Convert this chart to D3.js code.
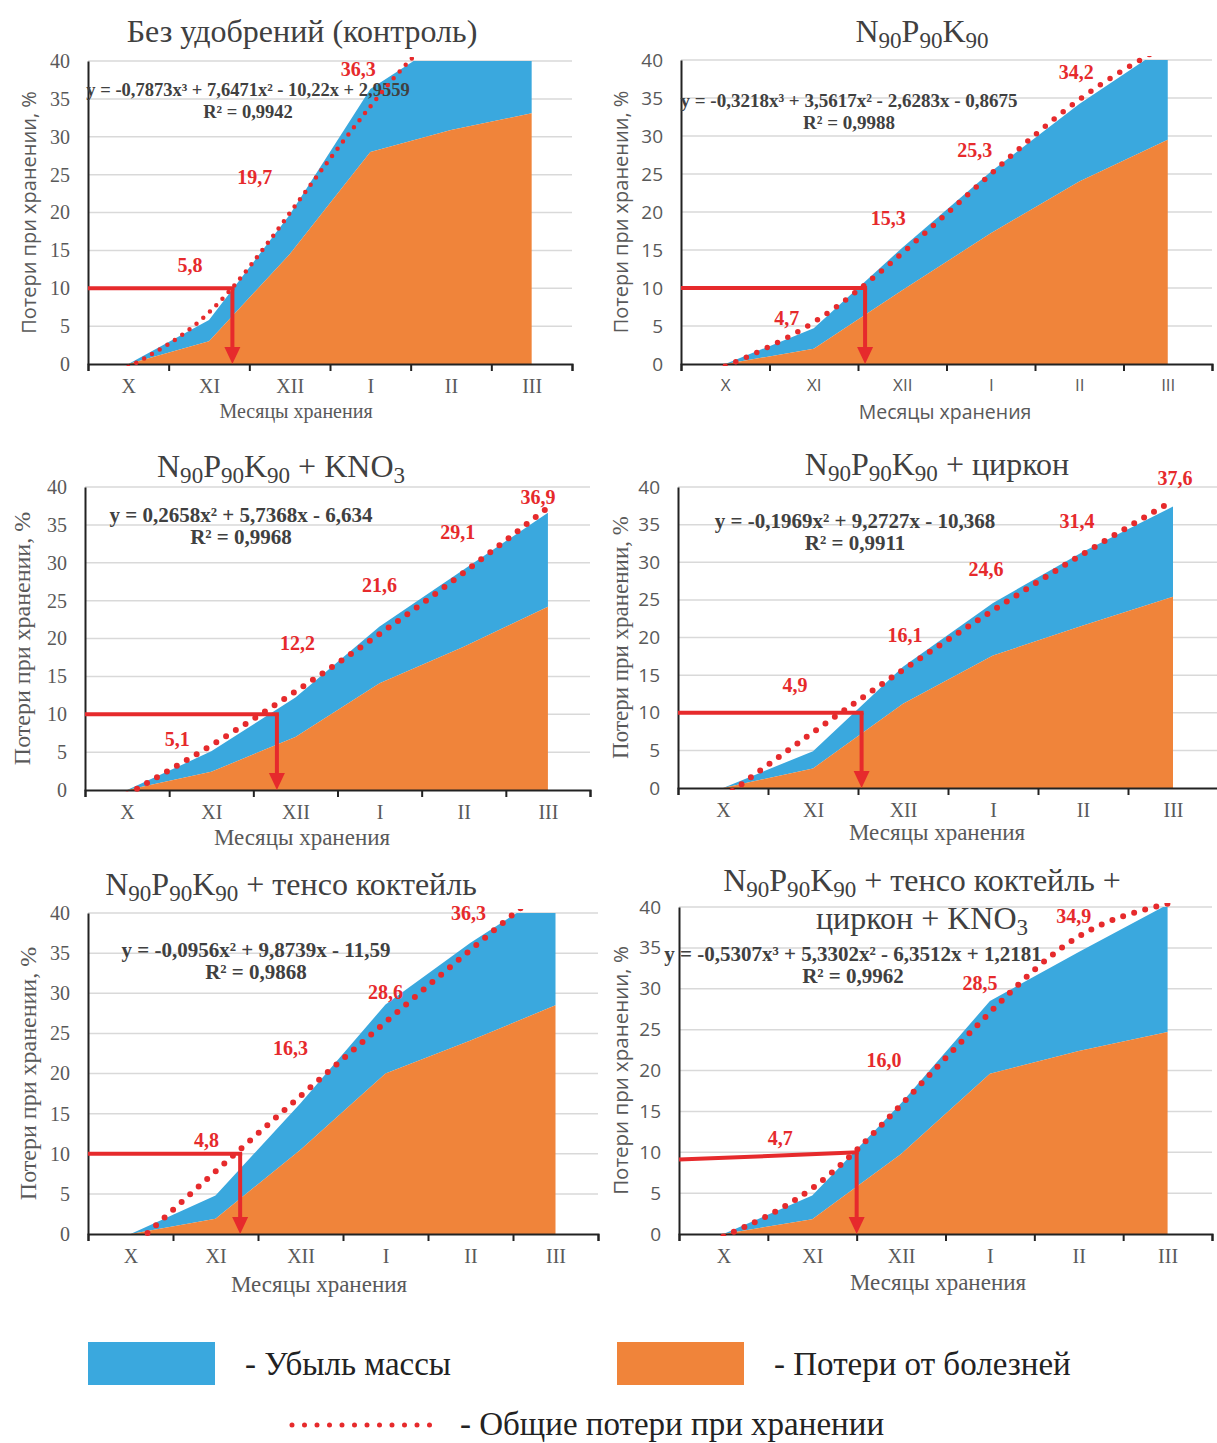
<!DOCTYPE html>
<html>
<head>
<meta charset="utf-8">
<script src="https://cdn.jsdelivr.net/npm/d3@7"></script>
<style>
body { margin: 0; background: #fff; }
</style>
</head>
<body>
<svg id="chart"></svg>
<script>
// storage months, same for every panel
const months = ['X', 'XI', 'XII', 'I', 'II', 'III'];
const yTicks = [0, 5, 10, 15, 20, 25, 30, 35, 40];

// panel titles, "_" marks a subscript
const titles = [
    ['Без удобрений (контроль)'],
    ['N_90P_90K_90'],
    ['N_90P_90K_90 + KNO_3'],
    ['N_90P_90K_90 + циркон'],
    ['N_90P_90K_90 + тенсо коктейль'],
    ['N_90P_90K_90 + тенсо коктейль +', 'циркон + KNO_3']
];

// losses from diseases (orange), % at each month
const diseaseLoss = [
    [0, 3.0, 14.5, 28.0, 30.9, 33.1],
    [0, 2.0, 9.7, 17.2, 24.0, 29.5],
    [0, 2.4, 7.0, 14.1, 18.9, 24.2],
    [0, 2.6, 11.2, 17.6, 21.6, 25.4],
    [0, 1.9, 10.5, 20.0, 24.1, 28.5],
    [0, 1.8, 9.8, 19.6, 22.4, 24.7]
];

// total losses (top of the blue mass-loss band), %
const totalLoss = [
    [0, 5.8, 19.7, 36.3, 43.2, 47.0],
    [0, 4.7, 15.3, 25.3, 34.2, 42.0],
    [0, 5.1, 12.2, 21.6, 29.1, 36.6],
    [0, 4.9, 16.1, 24.6, 31.4, 37.4],
    [0, 4.8, 16.3, 28.6, 36.3, 43.1],
    [0, 4.7, 16.0, 28.5, 34.5, 40.3]
];

// dotted trend line read at each month
const trendValues = [
    [-0.4, 6.8, 19.9, 34.0, 44.6, 46.9],
    [-0.3, 5.5, 14.6, 25.0, 34.8, 42.1],
    [-0.6, 5.9, 13.0, 20.6, 28.7, 37.3],
    [-1.3, 7.4, 15.7, 23.6, 31.1, 38.2],
    [-1.8, 7.8, 17.2, 26.4, 35.4, 44.2],
    [-0.3, 5.6, 15.8, 27.1, 36.4, 40.4]
];

const equations = [
    'y = -0,7873x³ + 7,6471x² - 10,22x + 2,9559',
    'y = -0,3218x³ + 3,5617x² - 2,6283x - 0,8675',
    'y = 0,2658x² + 5,7368x - 6,634',
    'y = -0,1969x² + 9,2727x - 10,368',
    'y = -0,0956x² + 9,8739x - 11,59',
    'y = -0,5307x³ + 5,3302x² - 6,3512x + 1,2181'
];
const rSquared = ['0,9942', '0,9988', '0,9968', '0,9911', '0,9868', '0,9962'];

// red total-loss labels: month index and value
const labelMonths = [[1, 2, 3], [1, 2, 3, 4], [1, 2, 3, 4, 5], [1, 2, 3, 4, 5], [1, 2, 3, 4], [1, 2, 3, 4]];
const labelValues = [
    [5.8, 19.7, 36.3],
    [4.7, 15.3, 25.3, 34.2],
    [5.1, 12.2, 21.6, 29.1, 36.9],
    [4.9, 16.1, 24.6, 31.4, 37.6],
    [4.8, 16.3, 28.6, 36.3],
    [4.7, 16.0, 28.5, 34.9]
];

// month (fractional) at which losses reach 10 %
const thresholdMonth = [1.29, 1.58, 1.78, 1.54, 1.29, 1.50];
const thresholdStart = [10, 10, 10, 10, 10, 9.1];
const thresholdLevel = 10;

// ---- layout ----
const SERIF = "'Liberation Serif', 'Times New Roman', serif";
const SANS = "'Open Sans', 'Noto Sans', sans-serif";
const BLUE = '#3aa8de';
const ORANGE = '#f0843a';
const RED = '#e62a2c';
const TEXT = '#595959';

const frames = [
    {left: 88, right: 572, top: 61, bottom: 364, titleX: 302, titleY: 31, xTitleX: 296, xTitleDy: 47, yTitleX: 28, eqX: 248, eqY: 90,
     fonts: {yt: SERIF, xt: SERIF, xTitle: SERIF, yTitle: SANS}, sizes: {xt: 20, xTitle: 20, yTitle: 20}, eqSize: 18.5, dot: [4.5, 9]},
    {left: 681, right: 1212, top: 60, bottom: 364, titleX: 922, titleY: 31, xTitleX: 945, xTitleDy: 47, yTitleX: 620, eqX: 849, eqY: 100,
     fonts: {yt: SANS, xt: SANS, xTitle: SANS, yTitle: SANS}, sizes: {xt: 17, xTitle: 19.5, yTitle: 20}, eqSize: 19, dot: [5.5, 11.5]},
    {left: 85, right: 590, top: 487, bottom: 790, titleX: 281, titleY: 466, xTitleX: 302, xTitleDy: 47, yTitleX: 22, eqX: 241, eqY: 515,
     fonts: {yt: SERIF, xt: SERIF, xTitle: SERIF, yTitle: SERIF}, sizes: {xt: 20, xTitle: 23, yTitle: 24}, eqSize: 21, dot: [6, 11.5]},
    {left: 678, right: 1218, top: 487, bottom: 788, titleX: 937, titleY: 464, xTitleX: 937, xTitleDy: 44, yTitleX: 620, eqX: 855, eqY: 521,
     fonts: {yt: SANS, xt: SERIF, xTitle: SERIF, yTitle: SERIF}, sizes: {xt: 20, xTitle: 23, yTitle: 23}, eqSize: 21, dot: [6, 11.5]},
    {left: 88, right: 598, top: 913, bottom: 1234, titleX: 291, titleY: 884, xTitleX: 319, xTitleDy: 50, yTitleX: 28, eqX: 256, eqY: 950,
     fonts: {yt: SERIF, xt: SERIF, xTitle: SERIF, yTitle: SERIF}, sizes: {xt: 20, xTitle: 23, yTitle: 24}, eqSize: 21, dot: [6, 11.5]},
    {left: 679, right: 1212, top: 907, bottom: 1234, titleX: 922, titleY: 880, xTitleX: 938, xTitleDy: 48, yTitleX: 620, eqX: 853, eqY: 954,
     fonts: {yt: SANS, xt: SERIF, xTitle: SERIF, yTitle: SANS}, sizes: {xt: 20, xTitle: 23, yTitle: 20.5}, eqSize: 21, dot: [6, 11.5]}
];

// label offsets (px) from the labelled point
const labelOffsets = [
    [[-19, -55], [-35, -38], [-12, -20]],
    [[-27, -10], [-14, -30], [-16, -22], [-3, -32]],
    [[-34, -12], [2, -55], [0, -41], [-6, -38], [-10, -13]],
    [[-18, -66], [2, -32], [-7, -34], [-6, -31], [2, -27]],
    [[-9, -55], [-10, -55], [0, -12], [-2, -30]],
    [[-32, -58], [-17, -43], [-10, -18], [-5, -33]]
];

const svg = d3.select('#chart')
    .attr('width', 1217)
    .attr('height', 1443)
    .style('display', 'block');

// writes a string with _NN subscripts into a text element
function addRich(text, str, size) {
    const parts = str.split(/(_\d+)/).filter(s => s.length);
    let lowered = false;
    parts.forEach(p => {
        if (p.startsWith('_')) {
            text.append('tspan').text(p.slice(1))
                .attr('dy', lowered ? 0 : size * 0.28)
                .attr('font-size', size * 0.72);
            lowered = true;
        } else {
            text.append('tspan').text(p)
                .attr('dy', lowered ? -size * 0.28 : 0)
                .attr('font-size', size);
            lowered = false;
        }
    });
}

function drawPanel(p) {
    const f = frames[p];
    const g = svg.append('g').attr('class', `panel-${p}`);

    const x = d3.scaleLinear().domain([-0.5, 5.5]).range([f.left, f.right]);
    const y = d3.scaleLinear().domain([0, 40]).range([f.bottom, f.top]);

    g.append('clipPath').attr('id', `clip-area-${p}`)
        .append('rect')
        .attr('x', f.left).attr('y', y(40))
        .attr('width', f.right - f.left).attr('height', y(0) - y(40));
    g.append('clipPath').attr('id', `clip-trend-${p}`)
        .append('rect')
        .attr('x', f.left).attr('y', y(40) - 4)
        .attr('width', f.right - f.left).attr('height', y(0) - y(40) + 6);

    // gridlines
    g.append('g').selectAll('line')
        .data(yTicks.filter(t => t > 0))
        .join('line')
        .attr('x1', f.left).attr('x2', f.right)
        .attr('y1', d => y(d)).attr('y2', d => y(d))
        .attr('stroke', '#d9d9d9')
        .attr('stroke-width', 1.5);

    const disease = diseaseLoss[p];
    const total = totalLoss[p];

    const areas = g.append('g').attr('clip-path', `url(#clip-area-${p})`);
    areas.append('path')
        .datum(total)
        .attr('fill', BLUE)
        .attr('d', d3.area()
            .x((d, i) => x(i))
            .y0((d, i) => y(disease[i]))
            .y1(d => y(d)));
    areas.append('path')
        .datum(disease)
        .attr('fill', ORANGE)
        .attr('d', d3.area()
            .x((d, i) => x(i))
            .y0(y(0))
            .y1(d => y(d)));

    // y axis
    const yAxis = g.append('g')
        .attr('transform', `translate(${f.left},0)`)
        .call(d3.axisLeft(y).tickValues(yTicks).tickSize(0).tickSizeOuter(0).tickPadding(18));
    yAxis.select('.domain').attr('stroke', '#222').attr('stroke-width', 2);
    yAxis.selectAll('text')
        .attr('font-family', f.fonts.yt)
        .attr('font-size', f.fonts.yt === SANS ? 19 : 20)
        .attr('fill', TEXT);

    // x axis: ticks between months, labels on months
    const xAxis = g.append('g')
        .attr('transform', `translate(0,${f.bottom})`)
        .call(d3.axisBottom(x).tickValues(d3.range(-0.5, 6, 1)).tickSize(7).tickSizeOuter(7).tickFormat(''));
    xAxis.selectAll('path, line').attr('stroke', '#222').attr('stroke-width', 2);

    const xLabels = g.append('g')
        .attr('transform', `translate(0,${f.bottom})`)
        .call(d3.axisBottom(x).tickValues(d3.range(6)).tickSize(0).tickPadding(15).tickFormat(i => months[i]));
    xLabels.select('.domain').remove();
    xLabels.selectAll('text')
        .attr('font-family', f.fonts.xt)
        .attr('font-size', f.sizes.xt)
        .attr('fill', TEXT);

    // axis titles
    g.append('text')
        .attr('x', f.xTitleX)
        .attr('y', f.bottom + f.xTitleDy)
        .attr('text-anchor', 'middle')
        .attr('dominant-baseline', 'central')
        .attr('font-family', f.fonts.xTitle)
        .attr('font-size', f.sizes.xTitle)
        .attr('fill', TEXT)
        .text('Месяцы хранения');

    g.append('text')
        .attr('transform', `translate(${f.yTitleX},${(f.top + f.bottom) / 2}) rotate(-90)`)
        .attr('text-anchor', 'middle')
        .attr('dominant-baseline', 'central')
        .attr('font-family', f.fonts.yTitle)
        .attr('font-size', f.sizes.yTitle)
        .attr('fill', TEXT)
        .text('Потери при хранении, %');

    // trend equation
    g.append('text')
        .attr('x', f.eqX).attr('y', f.eqY)
        .attr('text-anchor', 'middle')
        .attr('dominant-baseline', 'central')
        .attr('font-family', SERIF)
        .attr('font-weight', 'bold')
        .attr('font-size', f.eqSize)
        .attr('fill', '#404040')
        .text(equations[p]);
    g.append('text')
        .attr('x', f.eqX).attr('y', f.eqY + 22)
        .attr('text-anchor', 'middle')
        .attr('dominant-baseline', 'central')
        .attr('font-family', SERIF)
        .attr('font-weight', 'bold')
        .attr('font-size', f.eqSize)
        .attr('fill', '#404040')
        .text(`R² = ${rSquared[p]}`);

    // dotted trend line
    g.append('g').attr('clip-path', `url(#clip-trend-${p})`)
        .append('path')
        .datum(trendValues[p])
        .attr('fill', 'none')
        .attr('stroke', RED)
        .attr('stroke-width', f.dot[0])
        .attr('stroke-linecap', 'round')
        .attr('stroke-dasharray', `0 ${f.dot[1]}`)
        .attr('d', d3.line()
            .x((d, i) => x(i))
            .y(d => y(d))
            .curve(d3.curveNatural));

    // 10 % marker with arrow
    const tx = x(thresholdMonth[p]);
    const marker = g.append('g').attr('stroke', RED).attr('fill', RED);
    marker.append('line')
        .attr('x1', f.left).attr('y1', y(thresholdStart[p]))
        .attr('x2', tx + 2).attr('y2', y(thresholdLevel))
        .attr('stroke-width', 4);
    marker.append('line')
        .attr('x1', tx).attr('y1', y(thresholdLevel))
        .attr('x2', tx).attr('y2', y(0) - 12)
        .attr('stroke-width', 4);
    marker.append('path')
        .attr('stroke', 'none')
        .attr('d', `M${tx - 8},${y(0) - 17}L${tx + 8},${y(0) - 17}L${tx},${y(0)}Z`);

    // total loss labels
    g.append('g').selectAll('text')
        .data(labelValues[p])
        .join('text')
        .attr('x', (d, i) => x(labelMonths[p][i]) + labelOffsets[p][i][0])
        .attr('y', (d, i) => y(d) + labelOffsets[p][i][1])
        .attr('text-anchor', 'middle')
        .attr('dominant-baseline', 'central')
        .attr('font-family', SERIF)
        .attr('font-weight', 'bold')
        .attr('font-size', 20)
        .attr('fill', RED)
        .text(d => d3.format('.1f')(d).replace('.', ','));

    // title
    titles[p].forEach((line, k) => {
        const t = g.append('text')
            .attr('x', f.titleX)
            .attr('y', f.titleY + k * 38)
            .attr('text-anchor', 'middle')
            .attr('dominant-baseline', 'central')
            .attr('font-family', SERIF)
            .attr('font-size', 32)
            .attr('fill', '#404040');
        addRich(t, line, 32);
    });
}

d3.range(6).forEach(drawPanel);

// ---- legend ----
const legend = svg.append('g').attr('class', 'legend');
const legendItems = [
    {color: BLUE, text: '- Убыль массы', x: 88},
    {color: ORANGE, text: '- Потери от болезней', x: 617}
];
legend.selectAll('rect')
    .data(legendItems)
    .join('rect')
    .attr('x', d => d.x)
    .attr('y', 1342)
    .attr('width', 127)
    .attr('height', 43)
    .attr('fill', d => d.color);
legend.selectAll('text.item')
    .data(legendItems)
    .join('text')
    .attr('class', 'item')
    .attr('x', d => d.x + 157)
    .attr('y', 1364)
    .attr('dominant-baseline', 'central')
    .attr('font-family', SERIF)
    .attr('font-size', 33)
    .attr('fill', '#222')
    .text(d => d.text);

legend.append('line')
    .attr('x1', 292).attr('x2', 430)
    .attr('y1', 1425).attr('y2', 1425)
    .attr('stroke', RED)
    .attr('stroke-width', 5)
    .attr('stroke-linecap', 'round')
    .attr('stroke-dasharray', '0 12.5');
legend.append('text')
    .attr('x', 460)
    .attr('y', 1424)
    .attr('dominant-baseline', 'central')
    .attr('font-family', SERIF)
    .attr('font-size', 33)
    .attr('fill', '#222')
    .text('- Общие потери при хранении');
</script>
</body>
</html>
